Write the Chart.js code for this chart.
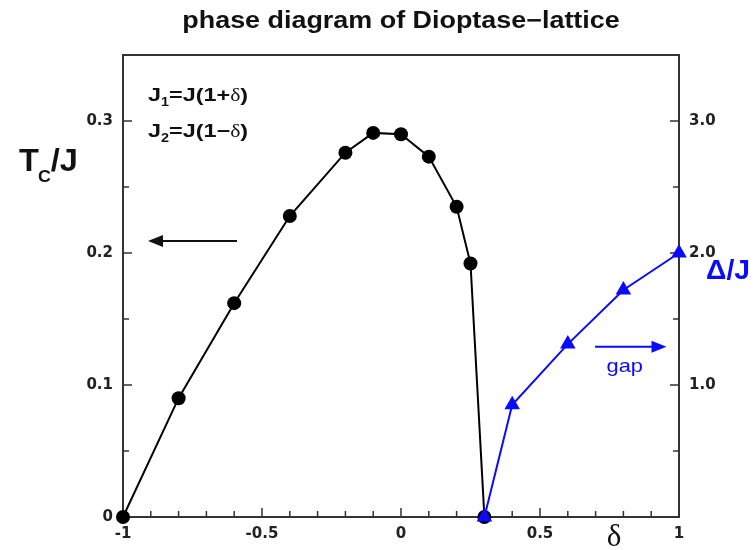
<!DOCTYPE html>
<html>
<head>
<meta charset="utf-8">
<script src="https://cdn.jsdelivr.net/npm/chart.js@4.4.0/dist/chart.umd.min.js"></script>
<style>
  html, body { margin: 0; padding: 0; background: #fff; }
  #wrap { width: 754px; height: 550px; }
</style>
</head>
<body>
<div id="wrap"><canvas id="chart" width="754" height="550"></canvas></div>
<script>
// Tc/J versus delta (left axis)
const deltaTc = [-1, -0.8, -0.6, -0.4, -0.2, -0.1, 0, 0.1, 0.2, 0.25, 0.3];
const tcValues = [0, 0.09, 0.162, 0.228, 0.276, 0.291, 0.29, 0.273, 0.235, 0.192, 0];

// gap Delta/J versus delta (right axis)
const deltaGap = [0.3, 0.4, 0.6, 0.8, 1.0];
const gapValues = [0, 0.85, 1.31, 1.72, 2.0];

// tick labels
const xTickLabels = { '-10': '-1', '-5': '-0.5', '0': '0', '5': '0.5', '10': '1' };
const leftTickLabels = { '0': '0', '10': '0.1', '20': '0.2', '30': '0.3' };
const rightTickLabels = { '10': '1.0', '20': '2.0', '30': '3.0' };

const BLUE = '#0a0aff';
const INK = '#222';

function toPoints(xs, ys) {
  return xs.map((x, i) => ({ x: x, y: ys[i] }));
}

function txt(ctx, s, x, y, font, color, align, sx) {
  ctx.save();
  ctx.font = font;
  ctx.fillStyle = color;
  ctx.textBaseline = 'middle';
  ctx.textAlign = align || 'left';
  ctx.translate(x, y);
  ctx.scale(sx || 1, 1);
  ctx.fillText(s, 0, 0);
  ctx.restore();
  ctx.save();
  ctx.font = font;
  const w = ctx.measureText(s).width * (sx || 1);
  ctx.restore();
  return w;
}

function arrow(ctx, x1, x2, y, color) {
  const dir = x2 > x1 ? 1 : -1;
  ctx.save();
  ctx.strokeStyle = color;
  ctx.fillStyle = color;
  ctx.lineWidth = 2;
  ctx.beginPath();
  ctx.moveTo(x1, y);
  ctx.lineTo(x2 - dir * 10, y);
  ctx.stroke();
  ctx.beginPath();
  ctx.moveTo(x2, y);
  ctx.lineTo(x2 - dir * 15, y - 6);
  ctx.lineTo(x2 - dir * 15, y + 6);
  ctx.closePath();
  ctx.fill();
  ctx.restore();
}

const framePlugin = {
  id: 'frame',
  beforeDatasetsDraw(chart) {
    const { ctx, chartArea: a, scales } = chart;
    ctx.save();
    ctx.strokeStyle = '#333';
    ctx.lineWidth = 2;
    ctx.strokeRect(a.left, a.top, a.right - a.left, a.bottom - a.top);
    ctx.lineWidth = 1.5;
    ctx.beginPath();
    scales.x.ticks.forEach((t) => {
      const k = Math.round(t.value * 10);
      const px = scales.x.getPixelForValue(t.value);
      const len = k % 5 === 0 ? 9 : 6;
      ctx.moveTo(px, a.bottom);
      ctx.lineTo(px, a.bottom - len);
    });
    scales.y.ticks.forEach((t) => {
      const k = Math.round(t.value * 100);
      const py = scales.y.getPixelForValue(t.value);
      const len = k % 10 === 0 ? 9 : 6;
      ctx.moveTo(a.left, py);
      ctx.lineTo(a.left + len, py);
    });
    scales.y2.ticks.forEach((t) => {
      const k = Math.round(t.value * 10);
      const py = scales.y2.getPixelForValue(t.value);
      const len = k % 10 === 0 ? 9 : 6;
      ctx.moveTo(a.right, py);
      ctx.lineTo(a.right - len, py);
    });
    ctx.stroke();
    ctx.restore();
  },
  afterDraw(chart) {
    const { ctx, chartArea: a, scales } = chart;
    const x = scales.x, y = scales.y, y2 = scales.y2;
    const cx = (a.left + a.right) / 2;

    // title
    txt(ctx, 'phase diagram of Dioptase\u2212lattice', cx, 22,
      'bold 23px "Liberation Sans", Arial, sans-serif', '#111', 'center', 1.17);

    // left axis title Tc/J
    let px = 19;
    px += txt(ctx, 'T', px, 162, 'bold 31px "Liberation Sans", Arial, sans-serif', '#111', 'left', 1.05);
    px += txt(ctx, 'C', px - 1, 177, 'bold 17px "Liberation Sans", Arial, sans-serif', '#111', 'left', 1.05);
    txt(ctx, '/J', px - 1, 162, 'bold 31px "Liberation Sans", Arial, sans-serif', '#111', 'left', 1.05);

    // right axis title
    txt(ctx, '\u0394/J', 706, 272, 'bold 27px "Liberation Sans", Arial, sans-serif', BLUE, 'left', 1.05);

    // x axis title
    txt(ctx, '\u03b4', 614, 538, '31px "Liberation Serif", "DejaVu Serif", serif', '#111', 'center', 1);

    // coupling formulas
    const fBig = 'bold 18px "Liberation Sans", Arial, sans-serif';
    const fSub = 'bold 12px "Liberation Sans", Arial, sans-serif';
    const fDel = '18px "Liberation Serif", "DejaVu Serif", serif';
    [['1', '+'], ['2', '\u2212']].forEach((p, i) => {
      const yy = 96 + i * 36;
      let xx = 148;
      xx += txt(ctx, 'J', xx, yy, fBig, '#111', 'left', 1.3);
      xx += txt(ctx, p[0], xx, yy + 7, fSub, '#111', 'left', 1.2);
      xx += txt(ctx, '=J(1' + p[1], xx, yy, fBig, '#111', 'left', 1.3);
      xx += txt(ctx, '\u03b4', xx, yy, fDel, '#111', 'left', 1.2);
      txt(ctx, ')', xx, yy, fBig, '#111', 'left', 1.3);
    });

    // arrows pointing to the relevant axes
    arrow(ctx, x.getPixelForValue(-0.59), x.getPixelForValue(-0.91), y.getPixelForValue(0.209), '#111');
    arrow(ctx, x.getPixelForValue(0.698), x.getPixelForValue(0.955), y2.getPixelForValue(1.29), BLUE);
    txt(ctx, 'gap', x.getPixelForValue(0.805), y2.getPixelForValue(1.14),
      '19px "Liberation Sans", Arial, sans-serif', BLUE, 'center', 1.15);
  },
};

const tickFont = { family: '"DejaVu Sans", sans-serif', size: 15, weight: 'bold' };

const config = {
  type: 'scatter',
  data: {
    datasets: [
      {
        label: 'gap',
        data: toPoints(deltaGap, gapValues),
        yAxisID: 'y2',
        showLine: true,
        borderColor: BLUE,
        backgroundColor: BLUE,
        borderWidth: 2,
        pointStyle: 'triangle',
        pointRadius: 9,
        pointBorderWidth: 0,
        clip: false,
        order: 1,
      },
      {
        label: 'Tc',
        data: toPoints(deltaTc, tcValues),
        yAxisID: 'y',
        showLine: true,
        borderColor: '#000',
        backgroundColor: '#000',
        borderWidth: 2,
        pointStyle: 'circle',
        pointRadius: 7,
        pointBorderWidth: 0,
        clip: false,
        order: 2,
      },
    ],
  },
  options: {
    responsive: false,
    animation: false,
    layout: { padding: { top: 55, left: 0, right: 0, bottom: 0 } },
    plugins: {
      legend: { display: false },
      tooltip: { enabled: false },
      title: { display: false },
    },
    scales: {
      x: {
        type: 'linear',
        min: -1,
        max: 1,
        grid: { display: false, drawTicks: false },
        border: { display: false },
        afterFit: (scale) => { scale.height = 33; },
        ticks: {
          stepSize: 0.1,
          autoSkip: false,
          maxRotation: 0,
          padding: 8,
          color: INK,
          font: tickFont,
          callback: (v) => xTickLabels[String(Math.round(v * 10))] || '',
        },
      },
      y: {
        type: 'linear',
        position: 'left',
        min: 0,
        max: 0.35,
        grid: { display: false, drawTicks: false },
        border: { display: false },
        afterFit: (scale) => { scale.width = 123; },
        ticks: {
          stepSize: 0.05,
          autoSkip: false,
          padding: 10,
          color: INK,
          font: tickFont,
          callback: (v) => leftTickLabels[String(Math.round(v * 100))] || '',
        },
      },
      y2: {
        type: 'linear',
        position: 'right',
        min: 0,
        max: 3.5,
        grid: { display: false, drawTicks: false },
        border: { display: false },
        afterFit: (scale) => { scale.width = 75; },
        ticks: {
          stepSize: 0.5,
          autoSkip: false,
          padding: 10,
          color: INK,
          font: tickFont,
          callback: (v) => rightTickLabels[String(Math.round(v * 10))] || '',
        },
      },
    },
  },
  plugins: [framePlugin],
};

new Chart(document.getElementById('chart'), config);
</script>
</body>
</html>
